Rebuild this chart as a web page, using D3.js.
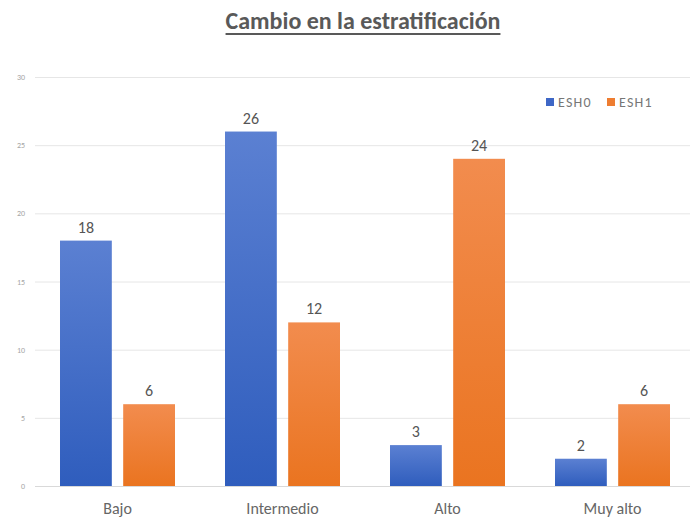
<!DOCTYPE html>
<html>
<head>
<meta charset="utf-8">
<script src="https://cdn.jsdelivr.net/npm/d3@7"></script>
<style>
  html, body { margin: 0; padding: 0; background: #fff; }
  svg { display: block; font-family: Carlito, Lato, "Open Sans", sans-serif; }
</style>
</head>
<body>
<svg id="chart" width="690" height="519"></svg>
<script>
// Chart data
const categories = ["Bajo", "Intermedio", "Alto", "Muy alto"];
const seriesNames = ["ESH0", "ESH1"];
const esh0 = [18, 26, 3, 2];
const esh1 = [6, 12, 24, 6];
const yTicks = [0, 5, 10, 15, 20, 25, 30];
const titleText = "Cambio en la estratificación";

const seriesValues = [esh0, esh1];
const rows = categories.map((c, i) => ({ cat: c, vals: seriesValues.map(s => s[i]) }));

const svg = d3.select("#chart");

const x = d3.scaleBand().domain(categories).range([35, 695]).paddingInner(0).paddingOuter(0);
const inner = d3.scaleBand().domain(seriesNames).range([25, 140]).paddingInner(0.18);
const y = d3.scaleLinear().domain([0, 30]).range([486, 77]);

// Gradients for bar fills
const defs = svg.append("defs");
const grads = [
  { id: "g0", top: "#5b80d2", bottom: "#2f5dbd" },
  { id: "g1", top: "#f28c4e", bottom: "#ea7420" }
];
grads.forEach(g => {
  const lg = defs.append("linearGradient").attr("id", g.id).attr("x1", 0).attr("y1", 0).attr("x2", 0).attr("y2", 1);
  lg.append("stop").attr("offset", "0%").attr("stop-color", g.top);
  lg.append("stop").attr("offset", "100%").attr("stop-color", g.bottom);
});
const solid = ["#3e67c6", "#ee7d31"];

// Title with underline
const title = svg.append("text")
  .attr("x", 363).attr("y", 29)
  .attr("text-anchor", "middle")
  .attr("font-size", 24).attr("font-weight", "bold")
  .attr("fill", "#595959")
  .text(titleText);
const tb = title.node().getBBox();
svg.append("line")
  .attr("x1", tb.x).attr("x2", tb.x + tb.width)
  .attr("y1", 34).attr("y2", 34)
  .attr("stroke", "#595959").attr("stroke-width", 1.8);

// Gridlines and y axis
const yAxis = d3.axisLeft(y).tickValues(yTicks).tickSize(-(690 - 35)).tickPadding(10);
const gy = svg.append("g").attr("transform", "translate(35,0)").call(yAxis);
gy.select(".domain").remove();
gy.selectAll(".tick line").attr("stroke", "#e6e6e6").attr("stroke-width", 1);
gy.selectAll(".tick text").attr("fill", "#a6a6a6").attr("font-size", 8).attr("font-family", "Carlito, Lato, sans-serif");
gy.selectAll(".tick").filter(d => d === 0).select("line").attr("stroke", "#d9d9d9");

// Bars
const groups = svg.append("g").selectAll("g").data(rows).join("g")
  .attr("transform", d => `translate(${x(d.cat)},0)`);
groups.selectAll("rect").data(d => d.vals.map((v, i) => ({ v, s: seriesNames[i], i }))).join("rect")
  .attr("x", d => inner(d.s))
  .attr("width", inner.bandwidth())
  .attr("y", d => y(d.v))
  .attr("height", d => y(0) - y(d.v))
  .attr("fill", d => `url(#g${d.i})`);

// Value labels
groups.selectAll("text.val").data(d => d.vals.map((v, i) => ({ v, s: seriesNames[i] }))).join("text")
  .attr("class", "val")
  .attr("x", d => inner(d.s) + inner.bandwidth() / 2)
  .attr("y", d => y(d.v) - 8)
  .attr("text-anchor", "middle")
  .attr("font-size", 16)
  .attr("fill", "#555")
  .text(d => d.v);

// X axis labels
const xAxis = d3.axisBottom(x).tickSize(0).tickPadding(17);
const gx = svg.append("g").attr("transform", `translate(0,${y(0)})`).call(xAxis);
gx.select(".domain").remove();
gx.selectAll(".tick text").attr("fill", "#666").attr("font-size", 16).attr("font-family", "Carlito, Lato, sans-serif");

// Legend
const legend = svg.append("g").attr("transform", "translate(546,102)");
const legX = [0, 61];
seriesNames.forEach((n, i) => {
  const g = legend.append("g").attr("transform", `translate(${legX[i]},0)`);
  g.append("rect").attr("x", 0).attr("y", -4).attr("width", 8).attr("height", 8).attr("fill", solid[i]);
  g.append("text").attr("x", 12).attr("y", 5).attr("font-size", 14)
    .attr("letter-spacing", 1.2).attr("fill", "#777").text(n);
});
</script>
</body>
</html>
